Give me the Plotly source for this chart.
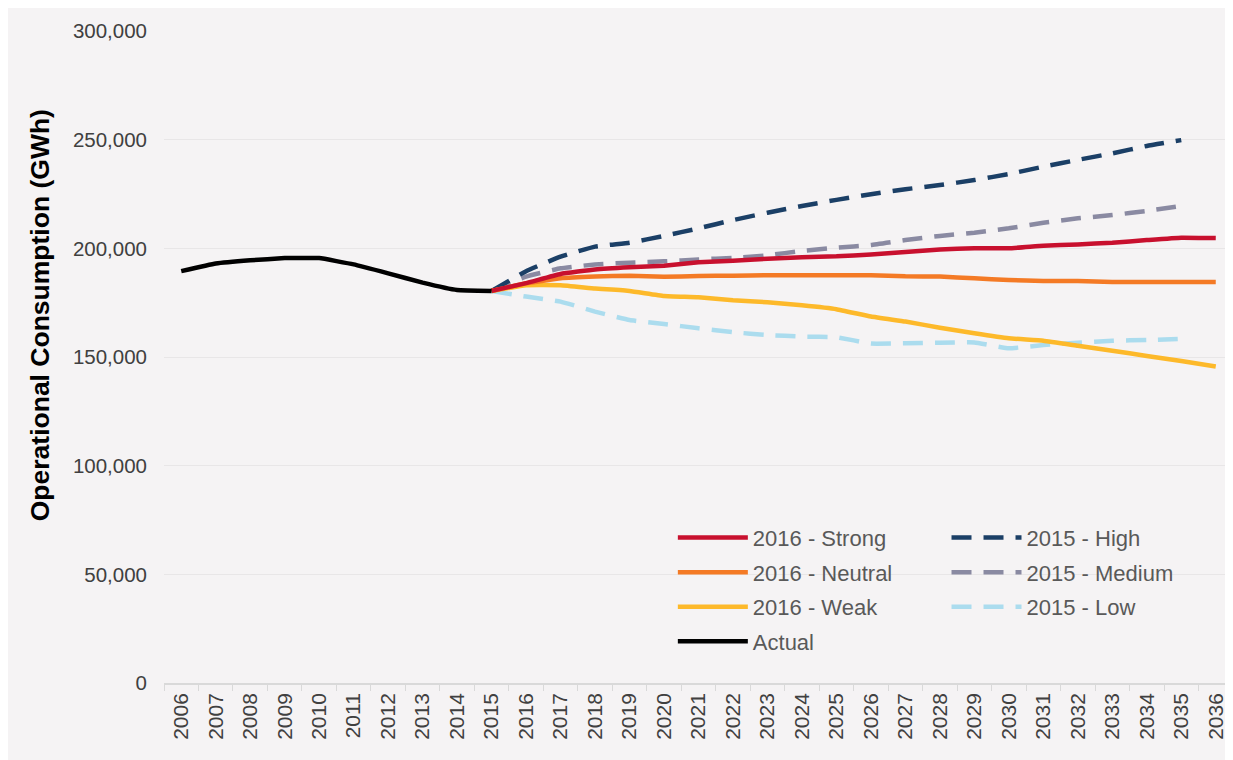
import plotly.graph_objects as go

years = [str(y) for y in range(2006, 2037)]

actual_years = [str(y) for y in range(2006, 2016)]
actual = [189500, 193000, 194500, 195500, 195500, 192600, 188500, 184200, 180800, 180400]

proj_years = [str(y) for y in range(2015, 2037)]
strong = [180400, 184000, 188200, 190300, 191300, 192000, 193600, 194300, 195200, 195900,
          196300, 197200, 198300, 199500, 200000, 200000, 201200, 201800, 202600, 203800,
          204900, 204700]
neutral = [180400, 183900, 186200, 187000, 187400, 186900, 187300, 187400, 187600, 187600,
           187600, 187600, 187100, 187000, 186200, 185400, 185000, 185000, 184500, 184500,
           184500, 184500]
weak = [180400, 183000, 183000, 181500, 180400, 178100, 177500, 176100, 175200, 173800,
        172000, 168600, 166300, 163500, 160900, 158600, 157500, 155200, 152900, 150500,
        148200, 145600]

hist_years = [str(y) for y in range(2015, 2036)]
high = [180400, 189500, 196200, 200800, 202600, 205700, 209200, 213000, 216400, 219500,
        222300, 224900, 227200, 229100, 231400, 234200, 237600, 240700, 243700, 247100,
        249800]
medium = [180400, 187000, 190800, 192600, 193400, 194000, 194900, 195600, 196800, 198800,
          200300, 201500, 203800, 205700, 207200, 209200, 211800, 213800, 215300, 217200,
          219500]
low = [180400, 177800, 175500, 170900, 167000, 165200, 163200, 161400, 160100, 159400,
       159100, 156200, 156300, 156600, 156700, 154000, 155500, 156600, 157500, 157800,
       158400]

y_ticks = [0, 50000, 100000, 150000, 200000, 250000, 300000]
y_tick_text = ["0", "50,000", "100,000", "150,000", "200,000", "250,000", "300,000"]

BG = "#f5f3f4"
W = 4.5
DASH = "20px,12px"

fig = go.Figure()
series = [
    ("2015 - Low", hist_years, low, "#abdcee", DASH, 3, "legend2"),
    ("2015 - Medium", hist_years, medium, "#8a8aa2", DASH, 2, "legend2"),
    ("2015 - High", hist_years, high, "#1b3f66", DASH, 1, "legend2"),
    ("2016 - Weak", proj_years, weak, "#fdb92a", "solid", 3, "legend"),
    ("2016 - Neutral", proj_years, neutral, "#f47a25", "solid", 2, "legend"),
    ("2016 - Strong", proj_years, strong, "#c8102e", "solid", 1, "legend"),
    ("Actual", actual_years, actual, "#000000", "solid", 4, "legend"),
]
for name, xs, ys, col, dash, rank, leg in series:
    fig.add_trace(go.Scatter(
        x=xs, y=ys, name=name, mode="lines",
        line=dict(color=col, width=W, dash=dash, shape="spline", smoothing=0.3),
        legendrank=rank, legend=leg, legendgroup=name,
    ))

leg_common = dict(
    orientation="v", yanchor="top", xanchor="left", itemwidth=70,
    bgcolor="rgba(0,0,0,0)", font=dict(size=22, color="#595959"),
    tracegroupgap=3, traceorder="grouped",
)

fig.update_layout(
    width=1225, height=752,
    paper_bgcolor=BG,
    plot_bgcolor=BG,
    margin=dict(l=156, r=0, t=23, b=77),
    font=dict(family="Arial, Liberation Sans, sans-serif", color="#404040"),
    showlegend=True,
    legend=dict(x=0.476, y=0.255, **leg_common),
    legend2=dict(x=0.732, y=0.255, **leg_common),
    annotations=[dict(
        text="<b>Operational Consumption (GWh)</b>", textangle=-90,
        xref="paper", yref="paper", x=-0.116, y=0.564,
        xanchor="center", yanchor="middle", showarrow=False,
        font=dict(size=26.5, color="#000000"),
    )],
)
fig.update_xaxes(
    type="category", categoryorder="array", categoryarray=years,
    range=[-0.5, 30.5],
    tickangle=-90, tickfont=dict(size=21, color="#404040"),
    showgrid=False, showline=True, linecolor="#d9d9d9", linewidth=1.5,
    ticks="outside", tickson="boundaries", ticklen=6, tickcolor="#d9d9d9",
    zeroline=False,
)
fig.update_yaxes(
    range=[0, 300000], tickvals=y_ticks, ticktext=y_tick_text,
    tickfont=dict(size=20.5, color="#404040"),
    showgrid=True, gridcolor="#e8e6e7", gridwidth=1,
    zeroline=False, showline=False, ticks="", ticklabelstandoff=16,
)

fig.write_html("out.html")
